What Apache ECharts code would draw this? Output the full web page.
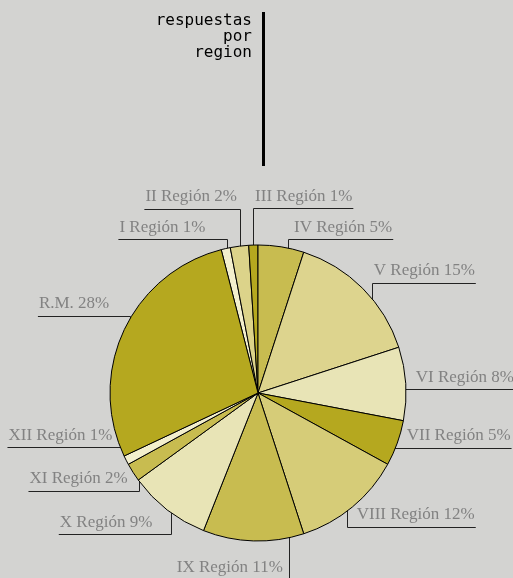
<!DOCTYPE html>
<html>
<head>
<meta charset="utf-8">
<script src="https://cdn.jsdelivr.net/npm/echarts@6/dist/echarts.min.js"></script>
<style>
  html, body { margin: 0; padding: 0; background: #d3d3d1; }
  #chart { width: 513px; height: 578px; }
</style>
</head>
<body>
<div id="chart"></div>
<script>
// ---- data ----
const categories = ['I Región', 'II Región', 'III Región', 'IV Región', 'V Región', 'VI Región',
  'VII Región', 'VIII Región', 'IX Región', 'X Región', 'XI Región', 'XII Región', 'R.M.'];
const values = [1, 2, 1, 5, 15, 8, 5, 12, 11, 9, 2, 1, 28];
const titleText = 'respuestas\npor\nregion';

// ---- style / layout (not data) ----
const sliceColors = ['#f3efcd', '#dcd38a', '#b5a81f', '#c8bc50', '#ddd48e', '#e8e4b6',
  '#b5a81f', '#d6cc78', '#c8bc50', '#e8e4b6', '#c8bc50', '#f3efcd', '#b5a81f'];
const labelSide   = ['L', 'L', 'R', 'R', 'R', 'R', 'R', 'R', 'L', 'L', 'L', 'L', 'L'];
const labelAnchor = [0.5, 0.5, 0.5, 0.69, 0.68, 0.5, 0.5, 0.5, 0.13, 0.5, 0.5, 0.5, 0.5];
const labelDx     = [-22, -3.4, 1.5, 5.8, 1, 17.4, 16.4, 9.1, -6.4, -19.5, -11.6, -20.4, -21.5];
const labelDy     = [-15.8, -44.5, -43.5, -15.7, -28.7, 5.8, 7.4, 25.7, 50, 30.9, 22.7, -9, -16.8];

const CX = 258, CY = 393, R = 148, K_IN = 0.95;
const total = values.reduce((a, b) => a + b, 0);
// slice "IV Región" starts at 12 o'clock
const topIndex = categories.indexOf('IV Región');
const beforeTop = values.slice(0, topIndex).reduce((a, b) => a + b, 0);
const startAngle = 90 + 360 * beforeTop / total;

function crisp(v) { return Math.round(v - 0.5) + 0.5; }

const chart = echarts.init(document.getElementById('chart'), null, { renderer: 'canvas' });
chart.setOption({
  backgroundColor: '#d3d3d1',
  animation: false,
  graphic: [{
    type: 'rect',
    shape: { x: 262, y: 12, width: 3, height: 154 },
    style: { fill: '#000' }
  }, {
    type: 'text',
    x: 252,
    y: 13,
    style: {
      text: titleText,
      align: 'right',
      verticalAlign: 'top',
      fontFamily: 'DejaVu Sans Mono',
      fontSize: 16,
      lineHeight: 16,
      fill: '#000'
    }
  }],
  series: [{
    type: 'pie',
    center: [CX, CY],
    radius: R,
    startAngle: startAngle,
    clockwise: true,
    avoidLabelOverlap: false,
    minShowLabelAngle: 0,
    emphasis: { disabled: true },
    data: categories.map((c, i) => ({ name: c, value: values[i], itemStyle: { color: sliceColors[i] } })),
    itemStyle: { borderColor: '#000', borderWidth: 1 },
    label: {
      show: true,
      position: 'outside',
      formatter: '{b} {d}%',
      fontFamily: 'Liberation Serif',
      fontSize: 17,
      color: '#828282'
    },
    labelLine: {
      show: true,
      length: 10,
      length2: 10,
      lineStyle: { color: '#222', width: 1 }
    },
    labelLayout: function (p) {
      const i = p.dataIndex;
      const before = values.slice(0, i).reduce((a, b) => a + b, 0);
      const frac = (before + labelAnchor[i] * values[i] - beforeTop) / total;
      const th = frac * 2 * Math.PI;
      const x0 = CX + K_IN * R * Math.sin(th);
      const y0 = CY - K_IN * R * Math.cos(th);
      const lineY = y0 + labelDy[i];
      const w = p.labelRect.width;
      const nearX = x0 + labelDx[i];
      let farX, align;
      if (labelSide[i] === 'R') { farX = nearX + w + 1; align = 'left'; }
      else { farX = nearX - w - 1; align = 'right'; }
      const sx = crisp(x0), ly = crisp(lineY);
      return {
        x: nearX,
        y: lineY - 4,
        align: align,
        verticalAlign: 'bottom',
        labelLinePoints: [[sx, y0], [sx, ly], [farX, ly]]
      };
    }
  }]
});
</script>
</body>
</html>
